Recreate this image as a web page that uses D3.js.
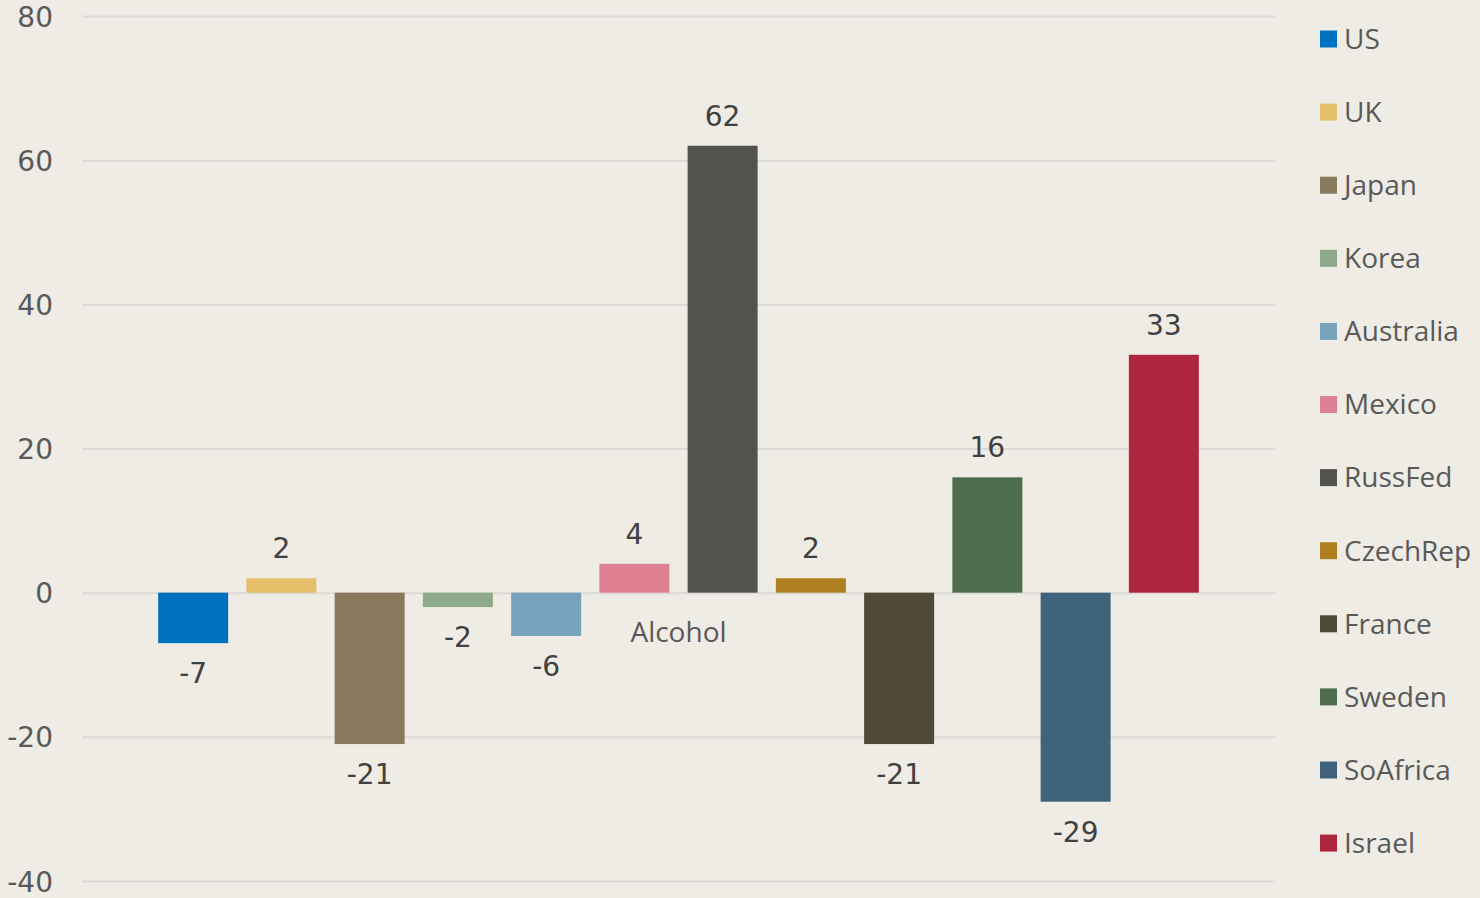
<!DOCTYPE html>
<html><head><meta charset="utf-8">
<script src="https://cdnjs.cloudflare.com/ajax/libs/d3/7.8.5/d3.min.js"></script>
<style>
html,body{margin:0;padding:0;background:#EEECE4;}
svg{display:block;font-family:"Open Sans",sans-serif;}
</style></head><body>
<svg id="chart" width="1480" height="898"></svg>
<script>
const categories = ["Alcohol"];
const seriesNames = ["US","UK","Japan","Korea","Australia","Mexico","RussFed","CzechRep","France","Sweden","SoAfrica","Israel"];
const seriesValues = [-7, 2, -21, -2, -6, 4, 62, 2, -21, 16, -29, 33];
const seriesColors = ["#0070C0","#E5BE6A","#897A5E","#8EAA8A","#76A2BC","#E08193","#52534D","#AE7F1E","#504938","#4E6D4F","#3E637A","#AE263E"];
const yTicks = [-40,-20,0,20,40,60,80];

const svg = d3.select("#chart");
const plot = {left:82, right:1275, top:16, bottom:881};
const numFont = "DejaVu Sans";

const y = d3.scaleLinear().domain([-40,80]).range([plot.bottom, plot.top]);
const x0 = d3.scaleBand().domain(categories).range([plot.left, plot.right]).paddingInner(0).paddingOuter(0.0633);
const x1 = d3.scaleBand().domain(seriesNames).range([0, x0.bandwidth()]).paddingInner(0.2068).paddingOuter(0.1034);

// gridlines
const yAxis = d3.axisLeft(y).tickValues(yTicks).tickSize(-(plot.right-plot.left)).tickFormat(d=>String(d));
const gAxis = svg.append("g").attr("transform",`translate(${plot.left},0)`).call(yAxis);
gAxis.select(".domain").remove();
gAxis.selectAll(".tick line").attr("stroke","#DCDAD6").attr("stroke-width",2);
gAxis.selectAll(".tick text").attr("x",-29).attr("dy","0.36em").attr("fill","#595959").style("font-size","28px").style("font-family",numFont);

const data = seriesNames.map((s,i)=>({cat:categories[0], name:s, value:seriesValues[i], color:seriesColors[i]}));

const g = svg.append("g");
g.selectAll("rect").data(data).enter().append("rect")
  .attr("x", d=>x0(d.cat)+x1(d.name))
  .attr("width", x1.bandwidth())
  .attr("y", d=>y(Math.max(0,d.value)))
  .attr("height", d=>Math.abs(y(d.value)-y(0)))
  .attr("fill", d=>d.color);

g.selectAll("text.lbl").data(data).enter().append("text")
  .attr("class","lbl")
  .attr("x", d=>x0(d.cat)+x1(d.name)+x1.bandwidth()/2)
  .attr("y", d=> d.value>=0 ? y(d.value)-30 : y(d.value)+30)
  .attr("dy","0.36em")
  .attr("text-anchor","middle")
  .attr("fill","#404040")
  .style("font-size","28px").style("font-family",numFont)
  .text(d=>String(d.value));

// category label
svg.selectAll("text.cat").data(categories).enter().append("text")
  .attr("class","cat")
  .attr("x", d=>x0(d)+x0.bandwidth()/2)
  .attr("y", 632).attr("dy","0.35em")
  .attr("text-anchor","middle").attr("fill","#595959")
  .style("font-size","28px").text(d=>d);

// legend
const leg = svg.append("g").attr("transform","translate(1320,39)");
const li = leg.selectAll("g").data(data).enter().append("g")
  .attr("transform",(d,i)=>`translate(0,${i*73.1})`);
li.append("rect").attr("x",0).attr("y",-8.5).attr("width",17).attr("height",17).attr("fill",d=>d.color);
li.append("text").attr("x",24).attr("y",0).attr("dy","0.35em").attr("fill","#595959")
  .style("font-size","28px").text(d=>d.name);
</script>
</body></html>
